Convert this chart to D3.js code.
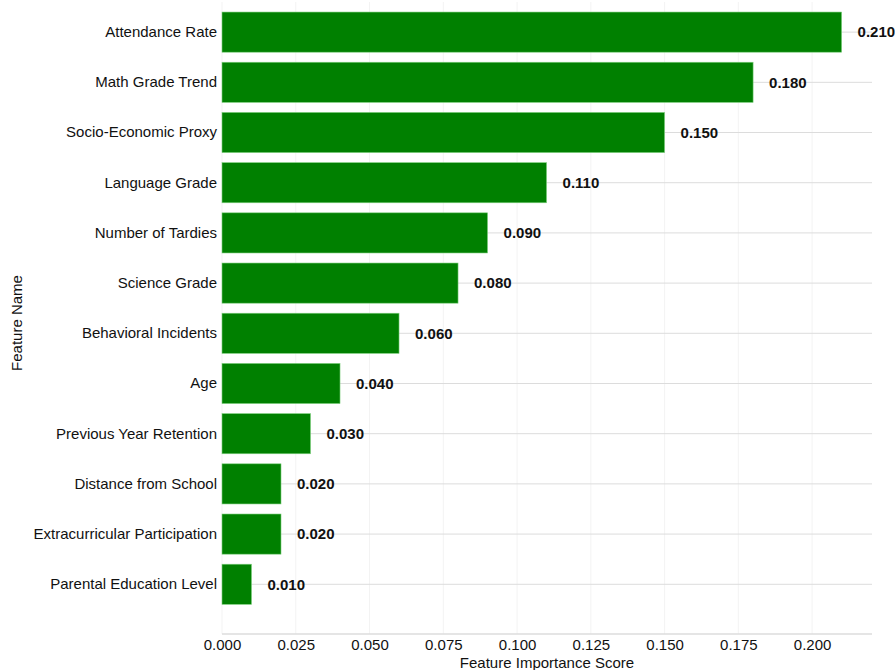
<!DOCTYPE html>
<html>
<head>
<meta charset="utf-8">
<script src="https://cdn.jsdelivr.net/npm/d3@7"></script>
<style>
  body { margin: 0; background: #fff; }
  svg { display: block; font-family: "Liberation Sans", Arial, sans-serif; }
</style>
</head>
<body>
<svg id="chart"></svg>
<script>
// features, top to bottom
const features = [
  "Attendance Rate",
  "Math Grade Trend",
  "Socio-Economic Proxy",
  "Language Grade",
  "Number of Tardies",
  "Science Grade",
  "Behavioral Incidents",
  "Age",
  "Previous Year Retention",
  "Distance from School",
  "Extracurricular Participation",
  "Parental Education Level"
];
const scores = [0.21, 0.18, 0.15, 0.11, 0.09, 0.08, 0.06, 0.04, 0.03, 0.02, 0.02, 0.01];
const xTicks = [0, 0.025, 0.05, 0.075, 0.1, 0.125, 0.15, 0.175, 0.2];

const data = features.map((name, i) => ({ name, score: scores[i] }));

const width = 895;
const height = 670;
const margin = { top: 2, right: 23, bottom: 36, left: 222 };
const plotBottom = height - margin.bottom;

const barColor = "#008000";
const gridColor = "#dcdcdc";
const textColor = "#111";

const svg = d3.select("#chart")
  .attr("width", width)
  .attr("height", height)
  .attr("viewBox", `0 0 ${width} ${height}`);

const x = d3.scaleLinear()
  .domain([0, 0.2203])
  .range([margin.left, width - margin.right]);

const y = d3.scaleBand()
  .domain(features)
  .range([margin.top, 614.4])
  .padding(0.2);

// faint vertical grid at ticks
svg.append("g")
  .selectAll("line")
  .data(xTicks)
  .enter()
  .append("line")
  .attr("x1", (d) => x(d))
  .attr("x2", (d) => x(d))
  .attr("y1", margin.top)
  .attr("y2", plotBottom)
  .attr("stroke", "#f3f3f3")
  .attr("stroke-width", 1);

// horizontal grid at each category
svg.append("g")
  .selectAll("line")
  .data(features)
  .enter()
  .append("line")
  .attr("x1", margin.left)
  .attr("x2", width - margin.right)
  .attr("y1", (d) => y(d) + y.bandwidth() / 2)
  .attr("y2", (d) => y(d) + y.bandwidth() / 2)
  .attr("stroke", gridColor)
  .attr("stroke-width", 1);

// bottom axis line
svg.append("line")
  .attr("x1", margin.left)
  .attr("x2", width - margin.right)
  .attr("y1", plotBottom)
  .attr("y2", plotBottom)
  .attr("stroke", gridColor)
  .attr("stroke-width", 1.5);

// bars
svg.selectAll(".bar")
  .data(data)
  .enter()
  .append("rect")
  .attr("class", "bar")
  .attr("x", x(0))
  .attr("y", (d) => y(d.name))
  .attr("width", (d) => x(d.score) - x(0))
  .attr("height", y.bandwidth())
  .attr("fill", barColor)
  .attr("stroke", "#7fd07f")
  .attr("stroke-width", 0.6);

// value labels
svg.selectAll(".value-label")
  .data(data)
  .enter()
  .append("text")
  .attr("class", "value-label")
  .attr("x", (d) => x(d.score) + 16)
  .attr("y", (d) => y(d.name) + y.bandwidth() / 2)
  .attr("dy", "0.35em")
  .style("font-size", "15px")
  .style("font-weight", "bold")
  .style("fill", textColor)
  .text((d) => d.score.toFixed(3));

// y axis labels
const yAxis = svg.append("g")
  .attr("transform", `translate(${margin.left},0)`)
  .call(d3.axisLeft(y).tickSize(0).tickPadding(5));
yAxis.select(".domain").remove();
yAxis.selectAll("text")
  .style("font-size", "15px")
  .style("fill", textColor)
  .style("font-family", "'Liberation Sans', Arial, sans-serif");

// x axis labels
const xAxis = svg.append("g")
  .attr("transform", `translate(0,${plotBottom})`)
  .call(d3.axisBottom(x).tickValues(xTicks).tickFormat(d3.format(".3f")).tickSize(0).tickPadding(5));
xAxis.select(".domain").remove();
xAxis.selectAll("text")
  .style("font-size", "15px")
  .style("fill", textColor)
  .style("font-family", "'Liberation Sans', Arial, sans-serif");

// axis titles
svg.append("text")
  .attr("x", (margin.left + width - margin.right) / 2)
  .attr("y", height - 2)
  .attr("text-anchor", "middle")
  .style("font-size", "15px")
  .style("fill", textColor)
  .text("Feature Importance Score");

svg.append("text")
  .attr("transform", `translate(22,${(margin.top + plotBottom) / 2 + 5}) rotate(-90)`)
  .attr("text-anchor", "middle")
  .style("font-size", "15px")
  .style("fill", textColor)
  .text("Feature Name");
</script>
</body>
</html>
